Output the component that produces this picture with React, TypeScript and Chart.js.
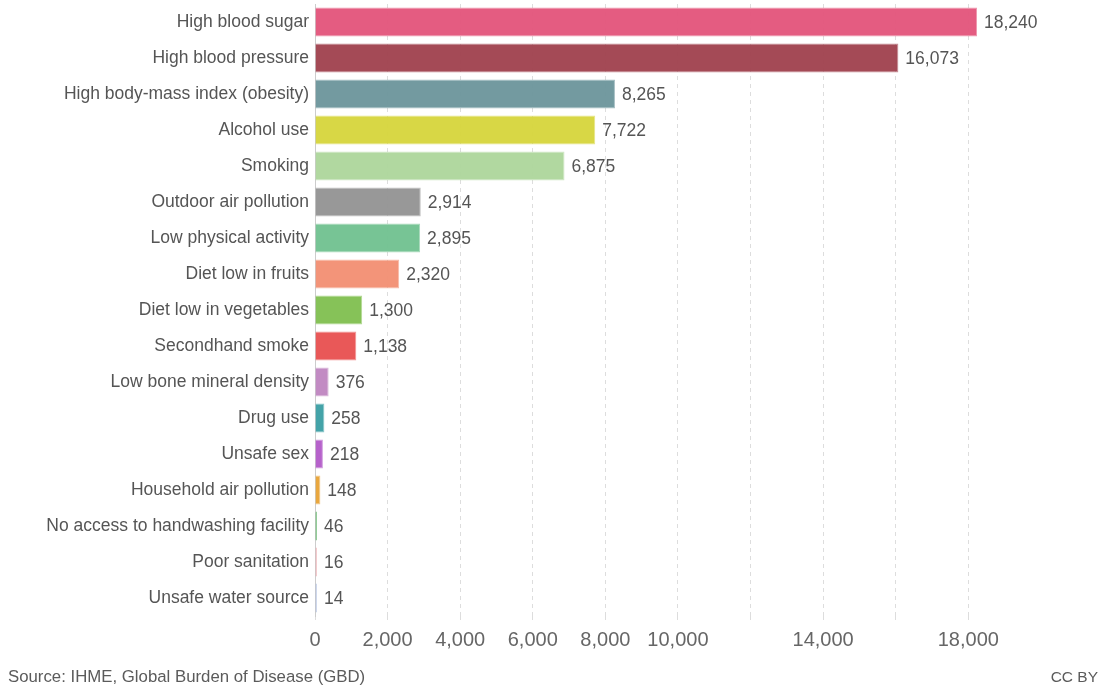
import React, { useEffect, useRef } from "react";
import { Chart, registerables } from "chart.js";

Chart.register(...registerables);

const categories = [
  "High blood sugar",
  "High blood pressure",
  "High body-mass index (obesity)",
  "Alcohol use",
  "Smoking",
  "Outdoor air pollution",
  "Low physical activity",
  "Diet low in fruits",
  "Diet low in vegetables",
  "Secondhand smoke",
  "Low bone mineral density",
  "Drug use",
  "Unsafe sex",
  "Household air pollution",
  "No access to handwashing facility",
  "Poor sanitation",
  "Unsafe water source",
];

const values = [18240, 16073, 8265, 7722, 6875, 2914, 2895, 2320, 1300, 1138, 376, 258, 218, 148, 46, 16, 14];

const barColors = [
  "#e3537a",
  "#9f404d",
  "#6c959b",
  "#d6d53b",
  "#add69b",
  "#929292",
  "#70c18f",
  "#f28e72",
  "#80bf4f",
  "#e84f4f",
  "#bf85c0",
  "#3a9ea3",
  "#b25ac8",
  "#e8a234",
  "#45a94e",
  "#e9a3a8",
  "#a8b9dc",
];

const xTickValues = [0, 2000, 4000, 6000, 8000, 10000, 12000, 14000, 16000, 18000];
const xTickHidden = [12000, 16000];

const FONT = "'Liberation Sans', Arial, sans-serif";

const fmt = (v: number) => v.toLocaleString("en-US");

const valueLabels = {
  id: "valueLabels",
  afterDatasetsDraw(chart: any) {
    const ctx = chart.ctx;
    const meta = chart.getDatasetMeta(0);
    ctx.save();
    ctx.font = `17.5px ${FONT}`;
    ctx.fillStyle = "#555555";
    ctx.textAlign = "left";
    ctx.textBaseline = "middle";
    meta.data.forEach((bar: any, i: number) => {
      ctx.fillText(fmt(values[i]), bar.x + 7, bar.y + 1);
    });
    ctx.restore();
  },
};

export default function App() {
  const ref = useRef<HTMLCanvasElement>(null);

  useEffect(() => {
    document.body.style.margin = "0";
    const chart = new Chart(ref.current!, {
      type: "bar",
      data: {
        labels: categories,
        datasets: [
          {
            data: values,
            backgroundColor: barColors.map((c) => c + "f2"),
            borderColor: barColors.map((c) => c + "99"),
            borderWidth: 1,
            minBarLength: 2,
            barPercentage: 0.8,
            categoryPercentage: 1,
          },
        ],
      },
      options: {
        indexAxis: "y",
        animation: false,
        responsive: false,
        maintainAspectRatio: false,
        layout: { padding: { top: 4, right: 129, bottom: 20, left: 0 } },
        plugins: {
          legend: { display: false },
          tooltip: { enabled: false },
        },
        scales: {
          x: {
            min: 0,
            max: 18240,
            afterBuildTicks: (scale: any) => {
              scale.ticks = xTickValues.map((v) => ({ value: v }));
            },
            afterFit: (scale: any) => {
              scale.height = 50;
              scale.paddingLeft = 0;
              scale.paddingRight = 0;
            },
            grid: {
              color: "#dddddd",
              lineWidth: 1,
              tickLength: 4,
              drawTicks: true,
            },
            border: { display: false, dash: [4, 4] },
            ticks: {
              padding: 8,
              maxRotation: 0,
              autoSkip: false,
              color: "#666666",
              font: { family: FONT, size: 20 },
              callback: (v: any) => (xTickHidden.includes(Number(v)) ? "" : fmt(Number(v))),
            },
          },
          y: {
            afterFit: (scale: any) => {
              scale.width = 315;
              scale.paddingTop = 0;
              scale.paddingBottom = 0;
            },
            grid: { display: false, drawTicks: false },
            border: { display: true, color: "#cccccc", width: 1 },
            ticks: {
              padding: 6,
              color: "#555555",
              autoSkip: false,
              font: { family: FONT, size: 17.5 },
            },
          },
        },
      },
      plugins: [valueLabels],
    } as any);
    return () => chart.destroy();
  }, []);

  return (
    <div style={{ position: "relative", width: 1106, height: 686, fontFamily: FONT }}>
      <canvas ref={ref} width={1106} height={686} style={{ position: "absolute", left: 0, top: 0 }} />
      <div
        style={{
          position: "absolute",
          left: 8,
          top: 667,
          fontSize: 16.8,
          color: "#5b5b5b",
          lineHeight: "20px",
        }}
      >
        Source: IHME, Global Burden of Disease (GBD)
      </div>
      <div
        style={{
          position: "absolute",
          right: 8,
          top: 667,
          fontSize: 15.5,
          color: "#5b5b5b",
          lineHeight: "20px",
        }}
      >
        CC BY
      </div>
    </div>
  );
}
